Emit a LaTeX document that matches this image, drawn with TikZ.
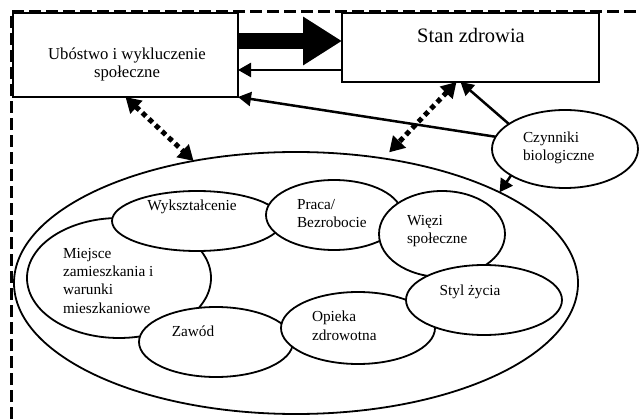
\documentclass[tikz,border=0pt]{standalone}
\usepackage{fontspec}
\setmainfont{Liberation Serif}
\usetikzlibrary{shapes.geometric,arrows.meta,calc}
\begin{document}
\begin{tikzpicture}[x=1pt,y=-1pt,
  box/.style={draw,line width=1.2pt,inner sep=0,outer sep=0},
  ell/.style={ellipse,draw,fill=white,line width=1.8pt,inner sep=0,outer sep=0},
  txt/.style={font=\fontsize{15.3}{18.3}\selectfont,inner sep=0,outer sep=0},
  arr/.style={line width=2.5pt,-{Triangle[length=13pt,width=14pt]}},
  dots/.style={line width=5pt,dash pattern=on 5pt off 4pt,{Triangle[length=15pt,width=17pt]}-{Triangle[length=15pt,width=17pt]}},
  frame/.style={line width=2.5pt,dash pattern=on 12pt off 5pt}]
\useasboundingbox (0,0) rectangle (639,419);
\draw[frame] (11.5,419) -- (11.5,11.5) -- (639,11.5);
% ellipses
\node[ell,minimum width=564pt,minimum height=262pt] (big) at (296,283) {};
\node[ell,minimum width=184pt,minimum height=120pt] (mie) at (119,278) {};
\node[ell,minimum width=170pt,minimum height=60pt] (wyk) at (197,221) {};
\node[ell,minimum width=136pt,minimum height=70pt] (pra) at (334,215) {};
\node[ell,minimum width=126pt,minimum height=86pt] (wie) at (442,234) {};
\node[ell,minimum width=154pt,minimum height=70pt] (zaw) at (216,342) {};
\node[ell,minimum width=154pt,minimum height=72pt] (opi) at (358,328) {};
\node[ell,minimum width=156pt,minimum height=70pt] (sty) at (484,300) {};
\node[ell,minimum width=146pt,minimum height=78pt] (czy) at (565,149) {};
% boxes
\node[box,minimum width=225pt,minimum height=84pt] (ubo) at (125.5,55) {};
\node[box,minimum width=257pt,minimum height=69pt] (stan) at (470.5,47.5) {};
% texts (base anchor = baseline of last line)
\node[font=\fontsize{16.7}{18}\selectfont,inner sep=0,anchor=base,align=center] (uboT) at (127,78) {Ubóstwo i wykluczenie\\społeczne};
\node[font=\fontsize{20.5}{24}\selectfont,inner sep=0,anchor=base] (stanT) at (471,43) {Stan zdrowia};
\node[txt,anchor=base west,align=left] (czyT) at (523,161) {Czynniki\\biologiczne};
\node[txt,anchor=base] (wykT) at (192,211) {Wykształcenie};
\node[txt,anchor=base west,align=left] (praT) at (297,228) {Praca/\\Bezrobocie};
\node[txt,anchor=base west,align=left] (wieT) at (407,244) {Więzi\\społeczne};
\node[txt,anchor=base] (styT) at (470,295) {Styl życia};
\node[txt,anchor=base west,align=left] (opiT) at (312,340) {Opieka\\zdrowotna};
\node[txt,anchor=base] (zawT) at (193,336) {Zawód};
\node[txt,anchor=base west,align=left] (mieT) at (63,313) {Miejsce\\zamieszkania i\\warunki\\mieszkaniowe};
% connectors
\draw[line width=16pt,-{Triangle[length=39pt,width=46pt]}] ($(ubo.north east)+(0,28)$) -- ($(stan.north west)+(0,28)$);
\draw[arr] ($(stan.south west)+(0,-12)$) -- ($(ubo.north east)+(0,57)$);
\draw[arr] (czy.170) -- (ubo.south east);
\draw[arr] (czy.156) -- ($(stan.south)+(-10,0)$);
\draw[arr] (czy.206) -- (big.24);
\draw[dots] (ubo.south) -- (big.130);
\draw[dots] ($(stan.south)+(-14,0)$) -- ([yshift=7pt]big.53);
\end{tikzpicture}
\end{document}
